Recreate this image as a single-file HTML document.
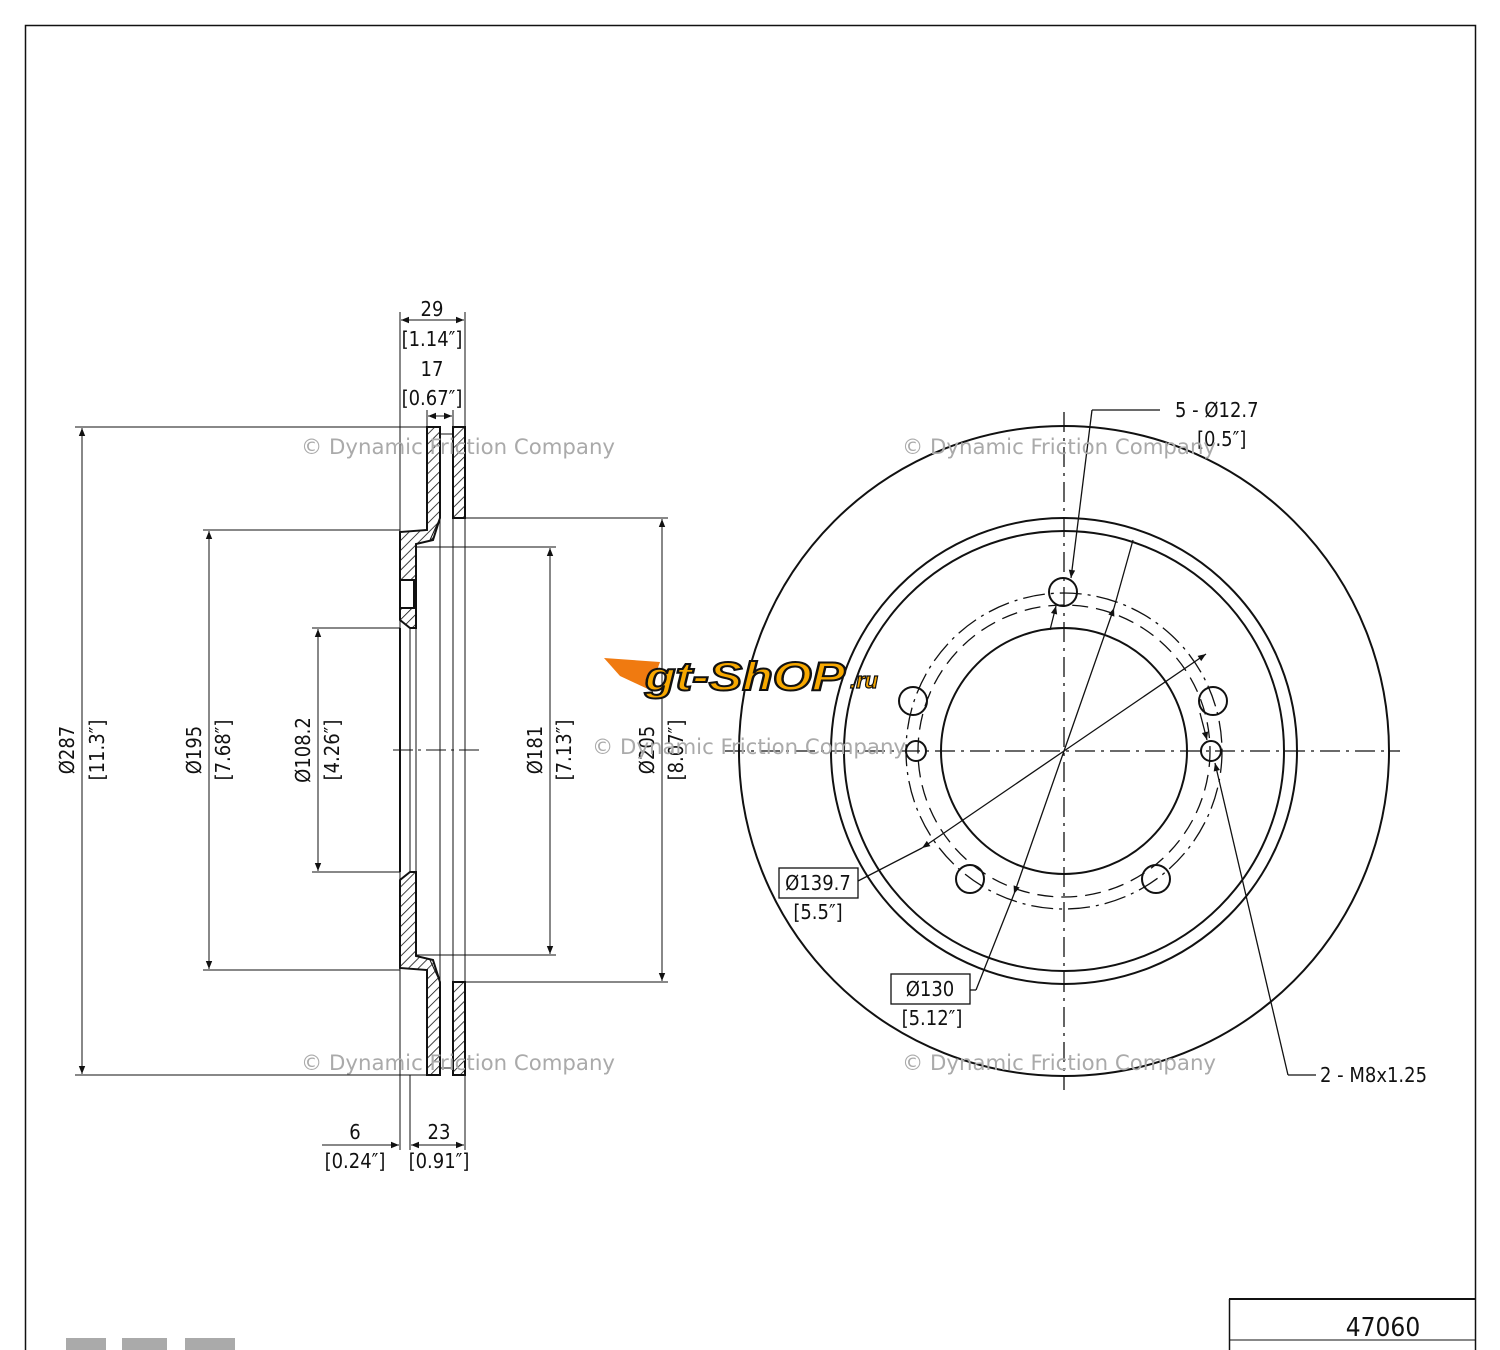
<!DOCTYPE html>
<html><head><meta charset="utf-8"><style>
html,body{margin:0;padding:0;background:#fff}
svg{display:block}
text{font-family:"DejaVu Sans Condensed","Liberation Sans",sans-serif;fill:#111}
</style></head><body>
<svg width="1500" height="1350" viewBox="0 0 1500 1350" xmlns="http://www.w3.org/2000/svg">
<defs>
<pattern id="h" width="7" height="7" patternUnits="userSpaceOnUse" patternTransform="rotate(45)">
<line x1="0" y1="0" x2="0" y2="7" stroke="#111" stroke-width="1.6"/></pattern>
<marker id="a" viewBox="0 0 10 10" refX="10" refY="5" markerWidth="12" markerHeight="8" orient="auto-start-reverse" markerUnits="userSpaceOnUse"><path d="M0,1 L10,5 L0,9 z" fill="#111"/></marker>
</defs>
<rect x="25.5" y="25.5" width="1450" height="1340" fill="none" stroke="#111" stroke-width="1.5"/>
<line x1="1229" y1="1299" x2="1475" y2="1299" stroke="#111" stroke-width="2"/>
<line x1="1229" y1="1340" x2="1475" y2="1340" stroke="#111" stroke-width="1"/>
<line x1="1229.5" y1="1299" x2="1229.5" y2="1350" stroke="#111" stroke-width="1.5"/>
<text x="1383" y="1336" font-size="26" text-anchor="middle">47060</text>
<rect x="66" y="1338" width="40" height="12" fill="#aaa"/><rect x="122" y="1338" width="45" height="12" fill="#aaa"/><rect x="185" y="1338" width="50" height="12" fill="#aaa"/>

<g stroke="#111" fill="none" stroke-width="1">
<g stroke-width="2" fill="url(#h)">
<path d="M427,427 H440 V518 L433,540 L416,544 V628 L410,628 L400,620 V532 L427,530 Z"/>
<path d="M453,427 H465 V518 H453 Z"/>
<path d="M427,1075 H440 V982 L433,960 L416,956 V872 L410,872 L400,880 V968 L427,970 Z"/>
<path d="M453,1075 H465 V982 H453 Z"/>
</g>
<rect x="400" y="580" width="14" height="28" fill="#fff" stroke-width="2"/>
<line x1="440" y1="434" x2="453" y2="434"/><line x1="440" y1="1068" x2="453" y2="1068"/>
<line x1="440" y1="518" x2="440" y2="982"/><line x1="453" y1="518" x2="453" y2="982"/>
<line x1="440" y1="518" x2="430" y2="540"/><line x1="440" y1="982" x2="430" y2="960"/>
<line x1="400" y1="628" x2="400" y2="872" stroke-width="2"/><line x1="410" y1="628" x2="410" y2="872"/>
<line x1="416" y1="544" x2="416" y2="956"/>
<line x1="393" y1="750" x2="480" y2="750" stroke-dasharray="20 5 3 5"/>
<line x1="75" y1="427" x2="427" y2="427"/><line x1="75" y1="1075" x2="427" y2="1075"/>
<line x1="203" y1="530" x2="400" y2="530"/><line x1="203" y1="970" x2="400" y2="970"/>
<line x1="312" y1="628" x2="400" y2="628"/><line x1="312" y1="872" x2="400" y2="872"/>
<line x1="416" y1="547" x2="556" y2="547"/><line x1="416" y1="955" x2="556" y2="955"/>
<line x1="465" y1="518" x2="668" y2="518"/><line x1="465" y1="982" x2="668" y2="982"/>
<line x1="82" y1="428" x2="82" y2="1074" marker-start="url(#a)" marker-end="url(#a)"/>
<line x1="209" y1="531" x2="209" y2="969" marker-start="url(#a)" marker-end="url(#a)"/>
<line x1="318" y1="629" x2="318" y2="871" marker-start="url(#a)" marker-end="url(#a)"/>
<line x1="550" y1="548" x2="550" y2="954" marker-start="url(#a)" marker-end="url(#a)"/>
<line x1="662" y1="519" x2="662" y2="981" marker-start="url(#a)" marker-end="url(#a)"/>
<line x1="400" y1="312" x2="400" y2="1150"/><line x1="465" y1="312" x2="465" y2="1150"/>
<line x1="427" y1="410" x2="427" y2="427"/><line x1="453" y1="410" x2="453" y2="427"/>
<line x1="401" y1="320" x2="464" y2="320" marker-start="url(#a)" marker-end="url(#a)"/>
<line x1="428" y1="416" x2="452" y2="416" marker-start="url(#a)" marker-end="url(#a)"/>
<line x1="410" y1="1075" x2="410" y2="1150"/>
<line x1="322" y1="1145" x2="399" y2="1145" marker-end="url(#a)"/>
<line x1="411" y1="1145" x2="464" y2="1145" marker-start="url(#a)" marker-end="url(#a)"/>
</g>
<g font-size="20" text-anchor="middle">
<text x="432" y="316">29</text><text x="432" y="346">[1.14″]</text>
<text x="432" y="376">17</text><text x="432" y="405">[0.67″]</text>
<text x="355" y="1139">6</text><text x="355" y="1168">[0.24″]</text>
<text x="439" y="1139">23</text><text x="439" y="1168">[0.91″]</text>
<text transform="translate(74,750) rotate(-90)">Ø287</text>
<text transform="translate(104,750) rotate(-90)">[11.3″]</text>
<text transform="translate(201,750) rotate(-90)">Ø195</text>
<text transform="translate(230,750) rotate(-90)">[7.68″]</text>
<text transform="translate(310,750) rotate(-90)">Ø108.2</text>
<text transform="translate(339,750) rotate(-90)">[4.26″]</text>
<text transform="translate(542,750) rotate(-90)">Ø181</text>
<text transform="translate(571,750) rotate(-90)">[7.13″]</text>
<text transform="translate(654,750) rotate(-90)">Ø205</text>
<text transform="translate(683,750) rotate(-90)">[8.07″]</text>
</g>

<g stroke="#111" fill="none" stroke-width="2">
<circle cx="1064" cy="751" r="325"/>
<circle cx="1064" cy="751" r="233"/>
<circle cx="1064" cy="751" r="220"/>
<circle cx="1064" cy="751" r="123"/>
<circle cx="1063" cy="592" r="14"/>
<circle cx="913" cy="701" r="14"/>
<circle cx="970" cy="879" r="14"/>
<circle cx="1156" cy="879" r="14"/>
<circle cx="1213" cy="701" r="14"/>
<circle cx="916" cy="751" r="10"/>
<circle cx="1211" cy="751" r="10"/>
</g>
<g stroke="#111" fill="none" stroke-width="1.3">
<circle cx="1064" cy="751" r="158" stroke-dasharray="22 6 3 6"/>
<circle cx="1064" cy="751" r="146" stroke-dasharray="16 8"/>
<line x1="1064" y1="412" x2="1064" y2="1090" stroke-dasharray="20 6 3 6"/>
<line x1="725" y1="751" x2="1400" y2="751" stroke-dasharray="20 6 3 6"/>
<line x1="1064" y1="751" x2="1206" y2="654" marker-end="url(#a)"/>
<line x1="1064" y1="751" x2="922" y2="848" marker-end="url(#a)"/>
<line x1="922" y1="848" x2="858" y2="881"/>
<line x1="1064" y1="751" x2="1114" y2="608" marker-end="url(#a)"/>
<line x1="1064" y1="751" x2="1014" y2="894" marker-end="url(#a)"/>
<line x1="1114" y1="608" x2="1133" y2="540"/>
<line x1="1014" y1="894" x2="976" y2="990"/><line x1="976" y1="990" x2="970" y2="990"/>
<line x1="1160" y1="410" x2="1092" y2="410"/><line x1="1092" y1="410" x2="1071" y2="578" marker-end="url(#a)"/>
<line x1="1050" y1="630" x2="1056" y2="606" marker-end="url(#a)"/>
<line x1="1316" y1="1075" x2="1288" y2="1075"/><line x1="1288" y1="1075" x2="1215" y2="763" marker-end="url(#a)"/>
<line x1="1200" y1="713" x2="1207" y2="740" marker-end="url(#a)"/>
<rect x="779" y="868" width="79" height="30"/>
<rect x="891" y="974" width="79" height="30"/>
</g>
<g font-size="20">
<text x="818" y="890" text-anchor="middle">Ø139.7</text><text x="818" y="919" text-anchor="middle">[5.5″]</text>
<text x="930" y="996" text-anchor="middle">Ø130</text><text x="932" y="1025" text-anchor="middle">[5.12″]</text>
<text x="1175" y="417">5 - Ø12.7</text><text x="1197" y="446">[0.5″]</text>
<text x="1320" y="1082">2 - M8x1.25</text>
</g>
<g font-size="21">
<text x="301" y="454" style="fill:#aaa" textLength="314" lengthAdjust="spacingAndGlyphs">© Dynamic Friction Company</text>
<text x="902" y="454" style="fill:#aaa" textLength="314" lengthAdjust="spacingAndGlyphs">© Dynamic Friction Company</text>
<text x="592" y="754" style="fill:#aaa" textLength="314" lengthAdjust="spacingAndGlyphs">© Dynamic Friction Company</text>
<text x="301" y="1070" style="fill:#aaa" textLength="314" lengthAdjust="spacingAndGlyphs">© Dynamic Friction Company</text>
<text x="902" y="1070" style="fill:#aaa" textLength="314" lengthAdjust="spacingAndGlyphs">© Dynamic Friction Company</text>
</g>
<g>
<path d="M604,658 L660,662 L650,690 L620,676 Z" fill="#f07a10"/>
<text x="645" y="690" font-size="40" font-weight="bold" font-style="italic" style="fill:#f7a800;stroke:#111;stroke-width:2;font-family:'Liberation Sans',sans-serif" textLength="200" lengthAdjust="spacingAndGlyphs">gt-ShOP</text>
<text x="850" y="688" font-size="22" font-weight="bold" font-style="italic" style="fill:#f7a800;stroke:#111;stroke-width:1.2;font-family:'Liberation Sans',sans-serif">.ru</text>
</g>
</svg>
</body></html>
